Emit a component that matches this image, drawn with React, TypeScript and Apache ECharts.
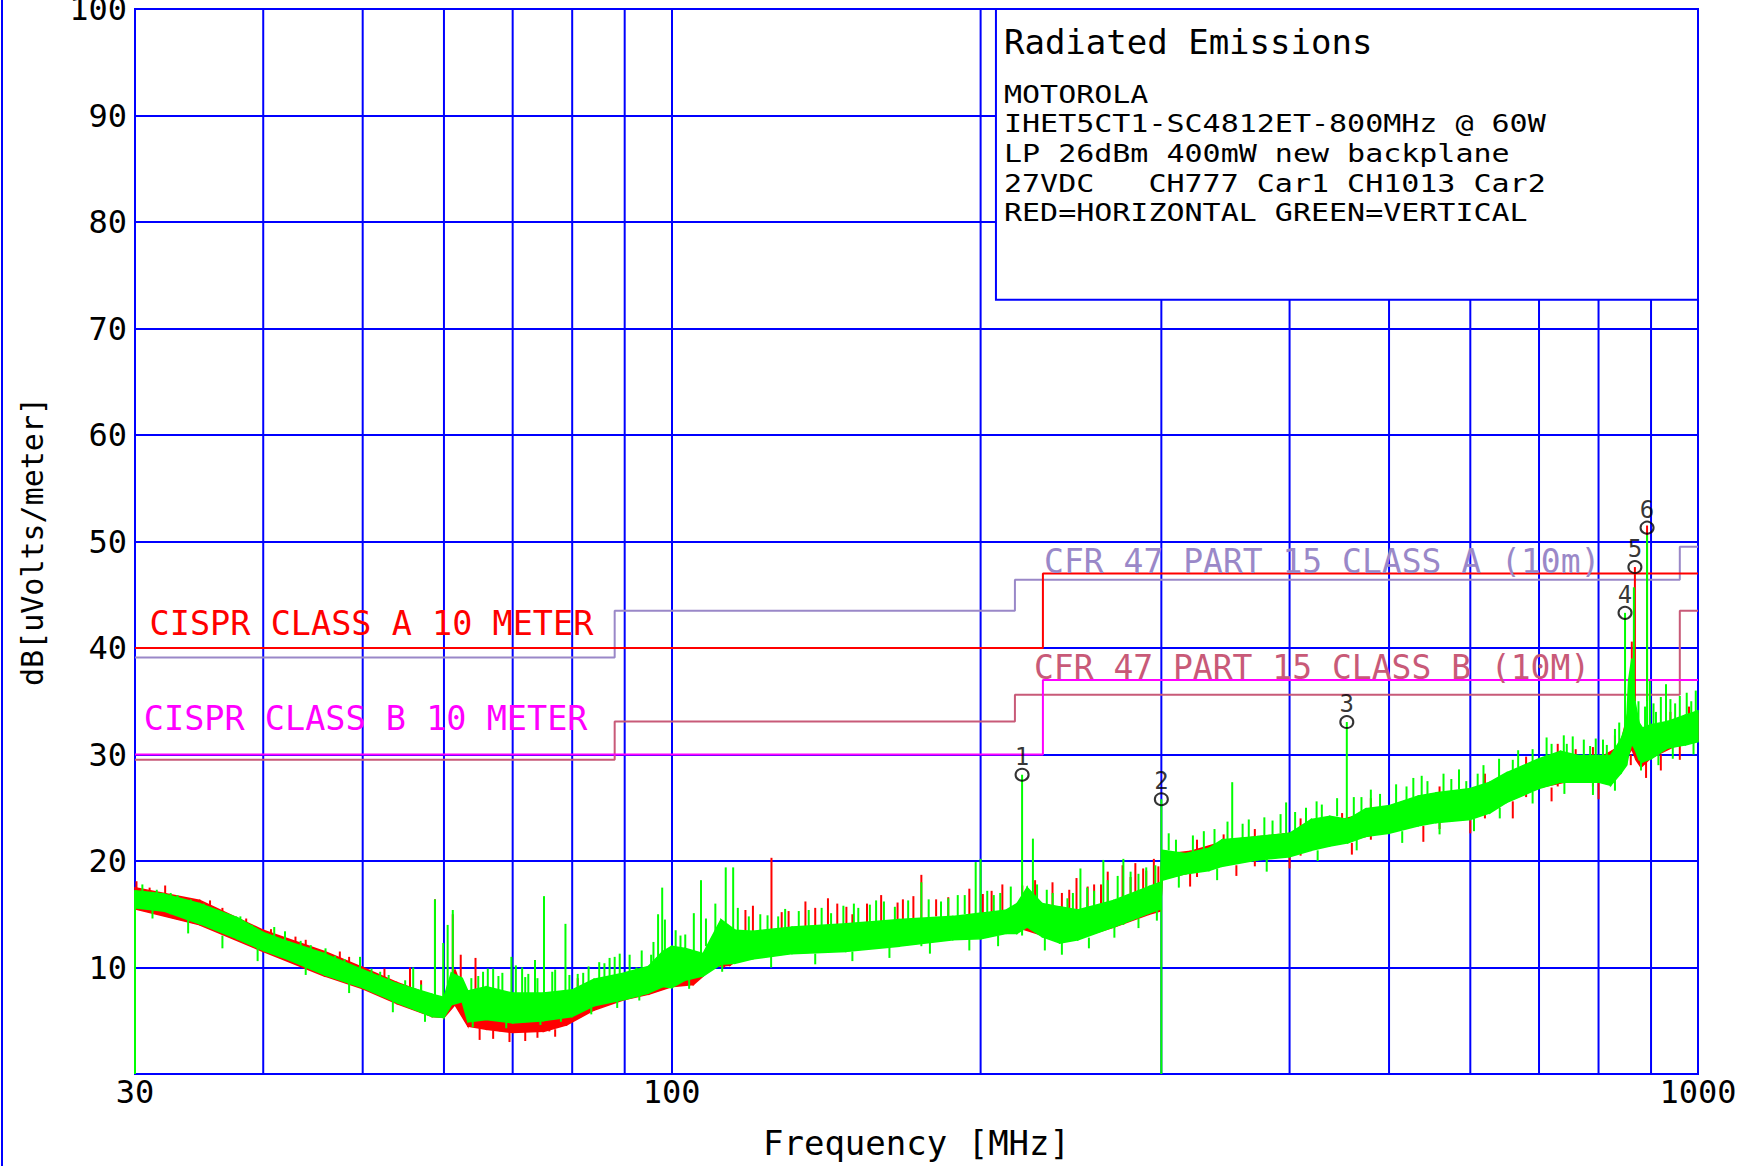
import React, { useEffect, useRef } from 'react';
import * as echarts from 'echarts';

// ---------- data ----------
const xMinorGrid = [40, 50, 60, 70, 80, 90, 200, 300, 400, 500, 600, 700, 800, 900];

// Limit lines (frequency MHz, level dBuV/m), drawn as steps
const cisprAFreq = [30, 230, 1000];
const cisprALevel = [40, 47, 47];
const cisprBFreq = [30, 230, 1000];
const cisprBLevel = [30, 37, 37];
const fccAFreq = [30, 88, 216, 960, 1000];
const fccALevel = [39.1, 43.5, 46.4, 49.5, 49.5];
const fccBFreq = [30, 88, 216, 960, 1000];
const fccBLevel = [29.5, 33.1, 35.6, 43.5, 43.5];

// Green (vertical) trace: noise band envelope
const greenEnvFreq = [30, 32, 34.7, 37.7, 40, 42.4, 45.9, 50, 54, 58.4, 60, 61, 62.5, 63.3, 66, 70, 75, 80, 84, 90, 94.9, 98, 100, 103, 107.3, 111.7, 115.3, 120, 131, 147.8, 166.6, 187.9, 200, 211.9, 217, 222, 229.6, 238.8, 248.7, 269.4, 291.8, 299.5, 300.5, 317, 334, 343.9, 372.5, 400, 420, 437.6, 455.7, 474.4, 500, 533.8, 555.5, 600, 626.7, 651.2, 700, 734.6, 765, 800, 822, 842, 852, 856, 862, 868, 876, 883, 900, 934, 972, 1000];
const greenEnvHigh = [17.2, 16.9, 16.0, 14.7, 13.3, 12.4, 11.3, 9.8, 8.5, 7.5, 7.2, 9.5, 9.0, 7.8, 8.2, 7.6, 7.6, 7.9, 8.9, 9.5, 10.1, 11.5, 12.0, 11.8, 11.3, 14.5, 13.5, 13.4, 13.8, 14.1, 14.5, 14.8, 15.1, 15.4, 16.0, 17.5, 16.0, 15.7, 15.4, 16.3, 17.6, 18.0, 21.0, 20.7, 21.2, 22.0, 22.3, 22.6, 23.9, 24.2, 23.9, 24.9, 25.2, 26.1, 26.4, 26.8, 27.4, 28.3, 29.6, 30.3, 29.9, 29.9, 29.9, 31.5, 33.0, 37.0, 39.0, 35.0, 33.0, 32.5, 32.8, 33.1, 33.7, 34.1];
const greenEnvLow = [15.6, 15.3, 14.1, 12.7, 11.6, 10.7, 9.3, 8.1, 6.7, 5.4, 5.3, 6.5, 6.8, 4.9, 5.1, 4.8, 5.0, 5.4, 6.4, 7.0, 7.6, 8.2, 8.1, 8.8, 9.2, 10.3, 10.4, 10.8, 11.3, 11.5, 12.0, 12.6, 12.7, 13.2, 13.2, 13.8, 12.9, 12.3, 12.6, 13.8, 15.1, 15.5, 18.2, 18.8, 19.1, 19.5, 20.1, 20.4, 21.0, 21.4, 21.7, 22.3, 22.6, 23.3, 23.6, 23.9, 24.5, 25.5, 26.8, 27.4, 27.4, 27.4, 27.1, 28.3, 29.0, 30.0, 31.0, 30.5, 29.5, 29.3, 29.6, 30.6, 30.9, 31.2];

// Red (horizontal) trace: noise band envelope
const redEnvFreq = [30, 34.7, 40, 45.9, 50, 54, 58.4, 60, 61.5, 63.3, 66, 70, 75, 79, 84, 90, 95, 100, 105, 110, 114, 117, 125, 140, 160, 180, 200, 215, 220, 230, 250, 270, 292, 299.5, 300.5, 320, 350, 400, 450, 500, 550, 600, 650, 700, 750, 800, 840, 855, 862, 870, 880, 900, 950, 1000];
const redEnvHigh = [17.5, 16.3, 13.5, 11.5, 10.0, 8.6, 7.4, 7.0, 9.8, 6.5, 6.1, 6.0, 6.2, 6.4, 7.8, 9.0, 9.6, 10.2, 10.4, 12.3, 12.2, 13.2, 13.4, 13.8, 14.2, 14.5, 14.9, 15.3, 16.0, 15.6, 15.2, 16.0, 17.3, 17.7, 20.6, 20.9, 22.0, 22.6, 23.9, 25.0, 25.6, 26.6, 27.8, 29.4, 29.8, 29.6, 30.8, 34.0, 36.0, 33.0, 32.0, 32.6, 33.0, 33.8];
const redEnvLow = [15.5, 14.0, 11.5, 9.2, 8.0, 6.6, 5.4, 5.3, 6.5, 4.5, 4.2, 3.9, 4.0, 4.6, 6.0, 7.0, 7.5, 8.2, 8.4, 10.1, 10.2, 11.0, 11.6, 11.8, 12.2, 12.6, 13.0, 13.3, 13.6, 13.0, 12.8, 13.8, 15.0, 15.3, 18.3, 18.9, 19.8, 20.6, 21.8, 22.8, 23.7, 24.0, 25.6, 26.9, 27.5, 27.5, 28.3, 30.0, 30.5, 29.5, 28.8, 29.7, 30.8, 31.3];

// Spikes: [frequency MHz, base dB, tip dB]
const greenSpikes = [
  [30, 0, 17.2], [33, 15, 16.8], [36, 13.8, 15.3], [39, 12.5, 14.0], [43.5, 11, 12.5], [47, 9.5, 11.1], [49.7, 8.5, 11.0],
  [52, 8, 9.6], [56, 7, 10.0], [58.8, 6, 16.4], [59.9, 6, 12.3], [60.5, 6, 14.0], [61.2, 7, 15.4], [64.8, 6, 9.2],
  [66.2, 6, 9.9], [67, 6, 9.9], [68.4, 6, 9.5], [69.8, 6, 11.0], [71.5, 6, 10.0], [72.5, 6, 9.4], [73.6, 6, 10.7],
  [75.1, 6, 16.7], [77, 6, 9.8], [78.8, 6, 14.1], [82, 6.5, 9.5], [86, 7, 10.4], [88, 7.5, 11.0], [92.4, 8, 10.0],
  [95.5, 8, 11.2], [97.0, 9, 15.0], [97.9, 9, 17.5], [98.5, 9, 14.5], [100.9, 9, 13.5], [103.1, 10, 13.1],
  [105.1, 10, 15.1], [106.8, 10, 18.2], [110.3, 11, 16.0], [112.9, 11, 19.4], [114.8, 11, 19.4], [118.9, 11, 14.8],
  [127, 11.5, 14.8], [136, 12, 15.4], [143, 12, 15.1], [152, 12, 15.6], [158.2, 12, 16.3], [165, 12.5, 15.7],
  [175.1, 12, 18.0], [183, 13, 16.2], [190, 13, 16.8], [197.8, 13, 19.9], [200, 13, 20.2], [206, 13.5, 16.8],
  [219.5, 13, 28.1], [224.9, 14, 22.1], [235.1, 13, 17.0], [243, 13, 16.5], [250.2, 13, 19.3], [258, 13.5, 17.2],
  [263.4, 14, 20.1], [275.5, 14, 20.2], [285, 15, 18.8], [300, 0, 25.8], [310, 19, 22.0], [330, 19.5, 22.8],
  [351.7, 20, 27.4], [360, 20.5, 23.5], [385, 21, 23.8], [396.9, 21, 25.5], [415, 21.5, 25.0], [430, 22, 25.3],
  [454.8, 22, 33.05], [470, 22.5, 26.0], [490, 23, 26.3], [520, 23.5, 27.0], [545, 24, 27.5], [575, 24, 27.7],
  [594.6, 24, 27.5], [610, 24.5, 28.2], [660, 26, 29.5], [690, 27, 30.5], [706, 27, 28.7], [720, 27.5, 31.0],
  [745, 28, 31.0], [774, 28, 31.4], [785, 28, 30.8], [815, 28, 30.9], [830, 28.5, 32.4], [849, 30, 43.3],
  [866, 31, 45.7], [892, 30, 50.6], [897.6, 30, 36.9], [910, 30, 34.0], [930.7, 31, 36.6], [950, 31, 34.8], [985, 31.5, 35.0],
];
const greenFineSpikes = [
  [30.5, 16, 17.8], [31.2, 15.5, 14.6], [31.5, 15.5, 17.3], [32.5, 15, 17.0], [33.8, 14.5, 13.2], [34, 14.5, 16.4],
  [35, 14, 16.0], [36.5, 13, 11.8], [37, 13.5, 15.0], [38, 13, 14.8], [39.5, 12, 10.6], [41, 12, 13.8], [42, 11.5, 13.4],
  [44, 10.5, 9.3], [44.5, 10.5, 12.1], [46, 10, 11.8], [48, 9, 10.8], [48.5, 9, 7.6], [51, 8, 9.9], [53, 7.5, 9.3],
  [53.5, 7, 5.8], [55, 7, 8.8], [57, 6, 8.4], [57.5, 5.8, 4.9],
  [63.8, 7, 9.0], [64, 5.5, 4.4], [65.5, 7, 9.6], [67.8, 7, 9.2], [69, 5, 4.3], [70.5, 7, 10.2], [72, 7, 9.1],
  [74, 7, 9.0], [74.5, 5, 4.6], [76.5, 7, 9.6], [78, 5.5, 4.9], [79.5, 7, 9.3], [81, 7.5, 9.4], [83, 8, 10.1],
  [83.5, 6.5, 5.6], [85, 8.5, 10.5], [87, 9, 10.9], [88.5, 7, 6.2], [89, 9, 11.3], [91, 9.5, 11.2], [93, 7.5, 6.9],
  [93.5, 10, 11.6], [96, 10, 12.4],
  [102, 11.5, 13.0], [104, 9, 8.0], [108, 12, 14.6], [112, 10.5, 9.6], [116, 13, 15.6], [122, 13, 15.0], [124, 13, 14.9],
  [125, 11, 10.0], [129, 13.5, 15.5], [133, 13.5, 15.3], [138, 11.3, 10.3], [140, 13.8, 15.6], [147, 14, 15.8],
  [150, 11.5, 10.6], [150.5, 14, 16.0], [156, 14, 15.9], [161, 14.2, 16.2], [163, 12, 10.9], [170, 14.4, 16.3],
  [178, 14.6, 16.4], [178.5, 12.5, 11.3], [186, 14.8, 16.5], [193, 15, 16.8], [195, 12.7, 11.6], [203, 15, 17.2],
  [208, 13, 12.0], [209, 15.3, 17.0], [214, 15.4, 17.6],
  [227, 16, 17.8], [231, 13, 11.6], [232, 15.8, 17.3], [240, 12.4, 11.2], [246, 15.5, 17.0], [254, 15.6, 17.5],
  [255, 12.8, 11.8], [266, 16, 18.2], [270, 13.8, 12.8], [272, 16.5, 18.6], [280, 17, 19.0], [285, 14.6, 13.7],
  [290, 17.5, 19.4], [296, 17.8, 19.6], [297, 15.3, 14.4],
  [305, 21, 22.6], [312, 18.6, 17.5], [322, 20.8, 22.4], [338, 21.2, 23.0], [340, 19.3, 18.2], [348, 22, 23.7],
  [365, 22.2, 23.9], [378, 22.4, 24.1], [380, 20.2, 19.0], [392, 22.6, 24.4], [405, 22.8, 24.6], [425, 24, 25.6],
  [426, 21, 20.0], [445, 24.2, 25.9], [462, 24, 26.0], [465, 22, 21.0], [480, 25, 26.7], [508, 25.4, 27.2],
  [515, 22.8, 21.7], [528, 26, 27.8], [538, 26.1, 28.0], [560, 23.6, 22.5], [565, 26.5, 28.2], [585, 26.7, 28.6],
  [605, 24, 22.8], [618, 27.1, 29.0], [640, 27.8, 29.6], [641, 25, 24.0], [668, 28.8, 30.4], [690, 26.5, 25.4],
  [712, 29.8, 31.6], [740, 30.2, 31.8], [741, 27.4, 26.3], [755, 30, 31.7], [790, 27.4, 26.2], [795, 29.9, 31.5],
  [808, 29.9, 31.4], [830, 27.8, 26.6], [838, 31, 33.0],
  [875, 33, 35.0], [880, 29.5, 28.5], [888, 32.5, 34.5], [905, 32.8, 34.8], [915, 30, 29.0], [920, 33, 35.4],
  [940, 33.2, 35.2], [945, 30.7, 29.6], [960, 33.5, 35.5], [975, 33.8, 35.8], [990, 31.1, 30.0], [995, 34, 36.0],
];
const redSpikes = [
  [30.1, 16.5, 18.1], [31, 15.5, 17.5], [32.1, 16, 17.7], [33.5, 15, 16.4], [35.5, 14, 16.3], [36.5, 13.5, 15.6],
  [38.5, 12.5, 14.6], [40.7, 12, 13.6], [43, 11, 12.9], [44, 11, 12.6], [47.5, 9.5, 11.5], [48.5, 9.5, 11.0],
  [52.5, 8, 9.9], [55.6, 7, 10.0], [57, 6.5, 8.8], [58.8, 6, 16.4], [61.2, 7, 15.0], [62.3, 7, 11.2], [64.4, 6, 10.9],
  [64.5, 4.5, 7.1], [68, 4, 7.6], [71, 4, 7.5], [73.6, 6, 10.7], [76, 4, 6.9], [81, 6.5, 9.0], [112.5, 10, 13.0],
  [125.1, 12, 20.3], [130, 12, 15.3], [138, 12, 15.6], [145, 12, 16.0], [150, 13, 15.0], [155, 12.5, 16.0],
  [168, 13, 16.4], [175.1, 13, 18.7], [186, 13, 16.6], [205, 13.5, 17.2], [219.6, 14, 17.7], [240, 13.5, 17.0],
  [254.3, 15, 17.6], [262, 14, 17.8], [280, 15, 18.5], [288, 15, 19.3], [298, 15.5, 19.5], [325, 18.5, 22.0],
  [345, 20, 22.5], [370, 19.5, 23.0], [410, 20.5, 24.0], [450, 22, 24.5], [480, 22, 25.9], [520, 23, 25.5],
  [560, 23, 27.0], [620, 24, 28.2], [640, 25, 27.5], [680, 26, 29.8], [730, 27, 31.0], [760, 28, 30.5],
  [790, 27, 30.7], [830, 28, 31.8], [862, 31, 40.6], [868, 35, 47.6], [892, 35, 51.5], [940, 31, 34.0], [980, 31, 34.5],
];
const redFineSpikes = [
  [65, 4.3, 3.2], [67, 4.1, 3.3], [69.5, 4, 3.0], [72, 4, 3.1], [74, 4, 3.4], [77, 4.2, 3.5],
  [118, 13, 15.4], [120, 13.2, 15.8], [128, 13.4, 15.2], [135, 13.6, 16.2], [142, 13.8, 16.5], [148, 14, 15.7],
  [160, 14.2, 16.8], [166, 14.4, 16.1], [172, 14.6, 16.7], [181, 14.8, 16.4], [195, 15, 17.4], [201, 15.1, 16.9],
  [210, 15.3, 17.8], [226, 16, 18.2], [235, 15.6, 18.0], [244, 15.4, 17.3], [248, 15.4, 18.4], [258, 15.6, 17.8],
  [266, 16, 19.0], [275, 16.5, 19.6], [283, 17, 19.8], [290, 17.3, 19.1], [295, 17.6, 20.2],
  [320, 18.8, 17.6], [355, 19.6, 18.6], [400, 20.4, 19.3], [460, 21.7, 20.6], [540, 23.3, 21.8], [600, 23.9, 22.6],
  [660, 25.6, 24.0], [720, 26.9, 25.6], [800, 27.4, 25.8], [860, 30, 29.0], [890, 29.3, 27.8], [920, 30, 28.5], [960, 30.8, 29.5],
];

// Peak markers
const markerFreq = [219.5, 300, 454.8, 849, 868, 892];
const markerLevel = [28.1, 25.8, 33.05, 43.3, 47.6, 51.3];
const markerIds = ['1', '2', '3', '4', '5', '6'];

// Texts
const boxTitle = 'Radiated Emissions';
const boxLines = [
  'MOTOROLA',
  'IHET5CT1-SC4812ET-800MHz @ 60W',
  'LP 26dBm 400mW new backplane',
  '27VDC   CH777 Car1 CH1013 Car2',
  'RED=HORIZONTAL GREEN=VERTICAL',
];

// ---------- styling / layout ----------
const W = 1751;
const H = 1166;
const BLUE = '#0000ff';
const RED = '#ff0000';
const GREEN = '#00ff00';
const MAGENTA = '#ff00ff';
const LAVENDER = '#9a88c8';
const ROSE = '#c85a78';
const FONT = '"DejaVu Sans Mono", "Liberation Mono", monospace';

const limitLabels = [
  { text: 'CISPR CLASS A 10 METER', f: 31.0, v: 42.3, color: RED, size: 33.5 },
  { text: 'CISPR CLASS B 10 METER', f: 30.6, v: 33.4, color: MAGENTA, size: 33.5 },
  { text: 'CFR 47 PART 15 CLASS A (10m)', f: 230.6, v: 48.1, color: LAVENDER, size: 33 },
  { text: 'CFR 47 PART 15 CLASS B (10M)', f: 225.4, v: 38.2, color: ROSE, size: 33 },
];
const boxAnchor = { f: 207, v: 72.7 };

function zip(a: number[], b: number[]) {
  return a.map((x, i) => [x, b[i]]);
}

function limitSeries(name: string, f: number[], v: number[], color: string) {
  return {
    type: 'line',
    name,
    step: 'end',
    data: zip(f, v),
    showSymbol: false,
    silent: true,
    z: 3,
    lineStyle: { color, width: 2 },
  };
}

function bandSeries(name: string, f: number[], hi: number[], lo: number[], color: string, z: number) {
  const rows = f.map((x, i) => [x, hi[i], lo[i]]);
  return {
    type: 'custom',
    name,
    z,
    silent: true,
    encode: { x: 0, y: [1, 2] },
    data: rows,
    renderItem: (params: any, api: any) => {
      const i = params.dataIndex;
      if (i >= rows.length - 1) return { type: 'group', children: [] };
      const n = rows[i + 1];
      const pts = [
        api.coord([api.value(0), api.value(1)]),
        api.coord([n[0], n[1]]),
        api.coord([n[0], n[2]]),
        api.coord([api.value(0), api.value(2)]),
      ];
      return { type: 'polygon', shape: { points: pts }, style: { fill: color, stroke: color, lineWidth: 1.5 } };
    },
  };
}

function spikeSeries(name: string, rows: number[][], color: string, z: number, width: number) {
  return {
    type: 'custom',
    name,
    z,
    silent: true,
    encode: { x: 0, y: [1, 2] },
    data: rows,
    renderItem: (params: any, api: any) => {
      const a = api.coord([api.value(0), api.value(1)]);
      const b = api.coord([api.value(0), api.value(2)]);
      return { type: 'line', shape: { x1: a[0], y1: a[1], x2: b[0], y2: b[1] }, style: { stroke: color, lineWidth: width } };
    },
  };
}

export default function App() {
  const ref = useRef<HTMLDivElement>(null);

  useEffect(() => {
    document.body.style.margin = '0';
    const chart = echarts.init(ref.current as HTMLDivElement, null, { renderer: 'svg' });

    const option: any = {
      animation: false,
      backgroundColor: '#ffffff',
      grid: {
        left: 135,
        top: 9,
        width: 1563,
        height: 1065,
        show: true,
        borderColor: BLUE,
        borderWidth: 2,
        containLabel: false,
        outerBoundsMode: 'none',
      },
      xAxis: {
        type: 'log',
        logBase: 10,
        min: 30,
        max: 1000,
        name: 'Frequency [MHz]',
        nameLocation: 'middle',
        nameGap: 52,
        nameTextStyle: { fontFamily: FONT, fontSize: 34, color: '#000' },
        axisLine: { show: true, lineStyle: { color: BLUE, width: 2 } },
        axisTick: { show: false },
        axisLabel: {
          fontFamily: FONT,
          fontSize: 32,
          color: '#000',
          margin: 2,
          formatter: (v: number) => String(Math.round(v)),
        },
        splitLine: { show: true, lineStyle: { color: BLUE, width: 2 } },
        minorSplitLine: { show: false },
      },
      yAxis: {
        type: 'value',
        min: 0,
        max: 100,
        interval: 10,
        name: 'dB[uVolts/meter]',
        nameLocation: 'middle',
        nameGap: 88,
        nameTextStyle: { fontFamily: FONT, fontSize: 30, color: '#000' },
        axisLine: { show: true, lineStyle: { color: BLUE, width: 2 } },
        axisTick: { show: false },
        axisLabel: {
          fontFamily: FONT,
          fontSize: 32,
          color: '#000',
          margin: 8,
          formatter: (v: number) => (v === 0 ? '' : String(v)),
        },
        splitLine: { show: true, lineStyle: { color: BLUE, width: 2 } },
      },
      series: [
        {
          type: 'custom',
          name: 'grid',
          z: 1,
          silent: true,
          encode: { x: 0 },
          data: xMinorGrid.map((f) => [f]),
          renderItem: (params: any, api: any) => {
            const a = api.coord([api.value(0), 0]);
            const b = api.coord([api.value(0), 100]);
            return { type: 'line', shape: { x1: a[0], y1: a[1], x2: b[0], y2: b[1] }, style: { stroke: BLUE, lineWidth: 2 } };
          },
        },
        limitSeries('FCC A', fccAFreq, fccALevel, LAVENDER),
        limitSeries('FCC B', fccBFreq, fccBLevel, ROSE),
        limitSeries('CISPR A', cisprAFreq, cisprALevel, RED),
        limitSeries('CISPR B', cisprBFreq, cisprBLevel, MAGENTA),
        spikeSeries('red spikes', redSpikes, RED, 4, 2),
        spikeSeries('red fine', redFineSpikes, RED, 4, 2),
        bandSeries('red band', redEnvFreq, redEnvHigh, redEnvLow, RED, 4),
        bandSeries('green band', greenEnvFreq, greenEnvHigh, greenEnvLow, GREEN, 5),
        spikeSeries('green fine', greenFineSpikes, GREEN, 6, 2),
        spikeSeries('green spikes', greenSpikes, GREEN, 6, 2),
        {
          type: 'scatter',
          name: 'markers',
          z: 8,
          silent: true,
          data: markerFreq.map((f, i) => [f, markerLevel[i], markerIds[i]]),
          symbol: 'circle',
          symbolSize: [13, 12],
          itemStyle: { color: 'rgba(255,255,255,0)', borderColor: '#000', borderWidth: 2 },
          label: {
            show: true,
            position: 'top',
            distance: 1,
            formatter: (p: any) => p.value[2],
            fontFamily: FONT,
            fontSize: 24,
            lineHeight: 20,
            color: '#000',
          },
        },
      ],
    };
    chart.setOption(option);

    const px = (f: number, v: number) => chart.convertToPixel({ gridIndex: 0 }, [f, v]) as number[];
    const tl = px(boxAnchor.f, 100);
    const br = px(1000, boxAnchor.v);
    const graphics: any[] = [
      { type: 'rect', z: 100, shape: { x: 1, y: 0, width: 2, height: H }, style: { fill: BLUE } },
      {
        type: 'rect',
        z: 100,
        shape: { x: tl[0], y: tl[1], width: br[0] - tl[0], height: br[1] - tl[1] },
        style: { fill: '#ffffff', stroke: BLUE, lineWidth: 2 },
      },
      {
        type: 'text',
        z: 101,
        x: tl[0] + 8,
        y: tl[1] + 33,
        style: { text: boxTitle, fontFamily: FONT, fontSize: 34, lineHeight: 34, fill: '#000', verticalAlign: 'middle' },
      },
      ...boxLines.map((t, i) => ({
        type: 'text',
        z: 101,
        x: tl[0] + 8,
        y: tl[1] + 85 + i * 29.7,
        scaleX: 1.2,
        style: { text: t, fontFamily: FONT, fontSize: 25, lineHeight: 25, fill: '#000', verticalAlign: 'middle' },
      })),
      ...limitLabels.map((l) => {
        const p = px(l.f, l.v);
        return {
          type: 'text',
          z: 50,
          x: p[0],
          y: p[1],
          style: { text: l.text, fontFamily: FONT, fontSize: l.size, lineHeight: 26, fill: l.color, verticalAlign: 'middle' },
        };
      }),
    ];
    chart.setOption({ graphic: graphics });

    return () => chart.dispose();
  }, []);

  return <div ref={ref} style={{ width: W, height: H }} />;
}
